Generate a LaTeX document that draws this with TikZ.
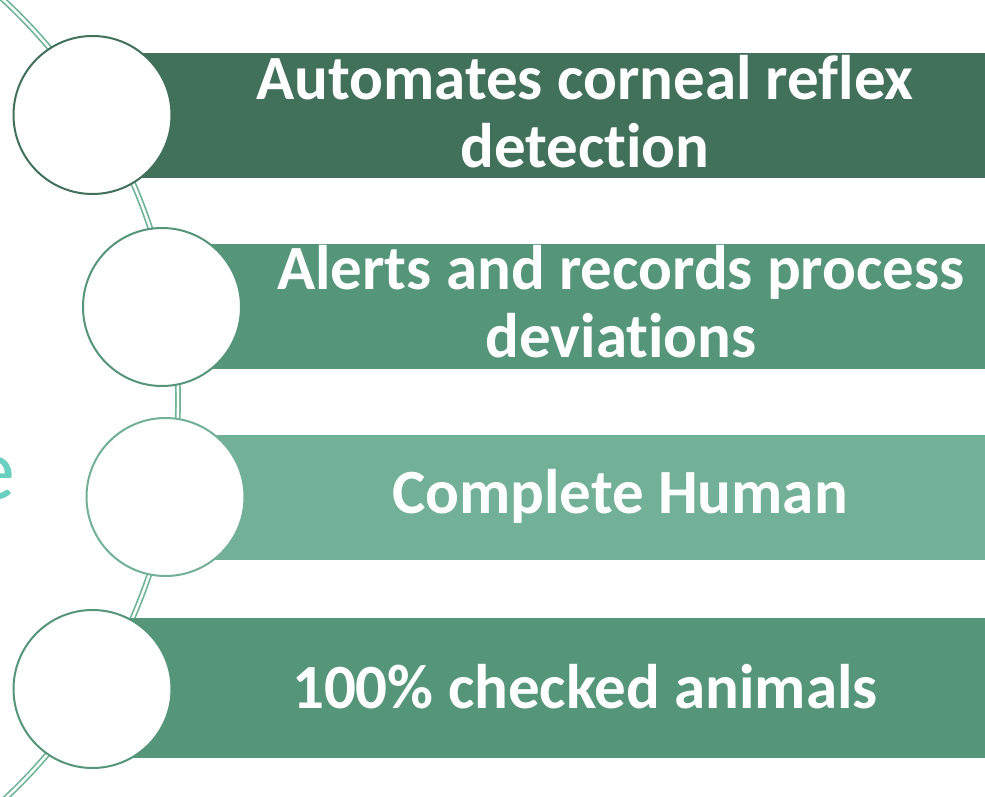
\documentclass[tikz,border=0pt]{standalone}
\usepackage{fontspec}
\setmainfont{Carlito}[Ligatures={NoCommon}]
\definecolor{gdark}{HTML}{42715B}
\definecolor{gmid}{HTML}{55967A}
\definecolor{glight}{HTML}{72B098}
\definecolor{garc}{HTML}{6FB496}
\definecolor{teal}{HTML}{6ACFC0}
\begin{document}
\begin{tikzpicture}[x=1pt,y=1pt,
  disc/.style={circle, fill=white, line width=2pt, minimum size=158pt, inner sep=0pt},
  lbl/.style={text=white, font=\fontsize{63}{68}\selectfont\bfseries, anchor=base, inner sep=0pt},
  arcline/.style={draw=garc, double=white, line width=1.7pt, double distance=2.4pt}
]
\useasboundingbox (0,0) rectangle (985,796);
\clip (0,0) rectangle (985,796);
\fill[white] (0,0) rectangle (985,796);
% partial word at left
\node[text=teal, font=\fontsize{88}{88}\selectfont, anchor=base east, inner sep=0pt] (ewrap) at (15,{796-499}) {e};
% connecting arc
\coordinate (arcc) at (-368,396);
\draw[arcline] (arcc) ++(52:546) arc[start angle=52, end angle=-52, radius=546];
% bars (image y -> 796-y)
\fill[gdark] (92,{796-53}) rectangle (985,{796-178});
\fill[gmid] (162,{796-244}) rectangle (985,{796-369});
\fill[glight] (165,{796-435}) rectangle (985,{796-560});
\fill[gmid] (92,{796-618}) rectangle (985,{796-758});
% circles
\node[disc, draw=gdark] (c1) at (92.5,{796-115}) {};
\node[disc, draw=gmid] (c2) at (162,{796-307}) {};
\node[disc, draw=glight] (c3) at (165.5,{796-497}) {};
\node[disc, draw=gmid] (c4) at (92.5,{796-689}) {};
% labels
\node[lbl] (t1a) at (585,{796-100}) {Automates corneal reflex};
\node[lbl] (t1b) at (585,{796-168}) {detection};
\node[lbl] (t2a) at (621,{796-290}) {Alerts and records process};
\node[lbl] (t2b) at (621,{796-358}) {deviations};
\node[lbl] (t3) at (620,{796-513}) {Complete Human};
\node[lbl] (t4) at (585,{796-708}) {100\% checked animals};
\end{tikzpicture}
\end{document}
